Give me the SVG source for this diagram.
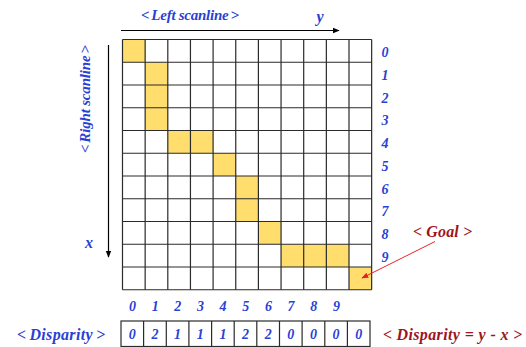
<svg xmlns="http://www.w3.org/2000/svg" width="526" height="347" viewBox="0 0 526 347">
<defs>
<style>
.t{font-family:"Liberation Serif","Times New Roman",serif;font-style:italic;font-weight:bold;}
.b{fill:#2a3fd4;}
.r{fill:#9e1420;}
.hl{fill:#ffde6e;}
.n{font-size:14px;text-anchor:middle;}
</style>
<marker id="ah" viewBox="0 0 10 10" refX="9" refY="5" markerWidth="7" markerHeight="7" orient="auto" markerUnits="userSpaceOnUse"><path d="M0,1 L10,5 L0,9 z" fill="#000"/></marker>
<marker id="ahr" viewBox="0 0 10 10" refX="9" refY="5" markerWidth="7" markerHeight="7" orient="auto" markerUnits="userSpaceOnUse"><path d="M0,1 L10,5 L0,9 z" fill="#e8202a"/></marker>
</defs>
<rect width="526" height="347" fill="#fff"/>

<g id="grid">
<rect x="122.5" y="39.5" width="249.2" height="250.2" fill="#fff"/>
<g class="hl">
<rect x="122.5" y="39.5" width="22.65" height="22.75"/>
<rect x="145.15" y="62.25" width="22.65" height="68.25"/>
<rect x="167.8" y="130.5" width="45.3" height="22.75"/>
<rect x="213.1" y="153.25" width="22.65" height="22.75"/>
<rect x="235.75" y="176" width="22.65" height="45.5"/>
<rect x="258.4" y="221.5" width="22.65" height="22.75"/>
<rect x="281.05" y="244.25" width="67.95" height="22.75"/>
<rect x="349" y="267" width="22.65" height="22.75"/>
</g>
<g stroke="#2b2b2b" stroke-width="1.2" fill="none">
<path d="M122.5,39.5V289.75 M145.15,39.5V289.75 M167.8,39.5V289.75 M190.45,39.5V289.75 M213.1,39.5V289.75 M235.75,39.5V289.75 M258.4,39.5V289.75 M281.05,39.5V289.75 M303.7,39.5V289.75 M326.35,39.5V289.75 M349,39.5V289.75 M371.65,39.5V289.75"/>
<path d="M122.5,39.5H371.65 M122.5,62.25H371.65 M122.5,85H371.65 M122.5,107.75H371.65 M122.5,130.5H371.65 M122.5,153.25H371.65 M122.5,176H371.65 M122.5,198.75H371.65 M122.5,221.5H371.65 M122.5,244.25H371.65 M122.5,267H371.65 M122.5,289.75H371.65"/>
</g>
</g>

<g id="connectors">
<line x1="121" y1="30.5" x2="339" y2="30.5" stroke="#000" stroke-width="1.2" marker-end="url(#ah)"/>
<line x1="108.5" y1="45" x2="108.5" y2="257" stroke="#000" stroke-width="1.2" marker-end="url(#ah)"/>
<line x1="435" y1="241.5" x2="362" y2="278" stroke="#e8202a" stroke-width="1" marker-end="url(#ahr)"/>
</g>

<g id="axis-labels">
<text class="t b" x="141" y="20" font-size="15" textLength="98" lengthAdjust="spacing">&lt;<tspan dx="2">Left scanline</tspan><tspan dx="2">&gt;</tspan></text>
<text class="t b" x="320" y="22" font-size="16" text-anchor="middle">y</text>
<text class="t b" x="89" y="248" font-size="16" text-anchor="middle">x</text>
<text class="t b" font-size="15" textLength="108" lengthAdjust="spacing" transform="translate(90,153) rotate(-90)">&lt;<tspan dx="2">Right scanline</tspan><tspan dx="2">&gt;</tspan></text>
</g>

<g id="row-labels" class="t b n">
<text x="385" y="57">0</text>
<text x="385" y="80">1</text>
<text x="385" y="102.5">2</text>
<text x="385" y="125">3</text>
<text x="385" y="148">4</text>
<text x="385" y="171">5</text>
<text x="385" y="193.5">6</text>
<text x="385" y="216">7</text>
<text x="385" y="239">8</text>
<text x="385" y="262">9</text>
</g>

<g id="col-labels" class="t b n">
<text x="132.5" y="310.5">0</text>
<text x="155.2" y="310.5">1</text>
<text x="177.8" y="310.5">2</text>
<text x="200.5" y="310.5">3</text>
<text x="223.1" y="310.5">4</text>
<text x="245.8" y="310.5">5</text>
<text x="268.4" y="310.5">6</text>
<text x="291.1" y="310.5">7</text>
<text x="313.7" y="310.5">8</text>
<text x="336.4" y="310.5">9</text>
</g>

<g id="goal">
<text class="t r" x="413" y="237" font-size="16" textLength="59" lengthAdjust="spacing">&lt;<tspan dx="4">Goal</tspan><tspan dx="4">&gt;</tspan></text>
</g>

<g id="disparity">
<text class="t b" x="17" y="340" font-size="16" textLength="88" lengthAdjust="spacing">&lt;<tspan dx="3">Disparity</tspan><tspan dx="3">&gt;</tspan></text>
<g stroke="#2b2b2b" stroke-width="1.2" fill="#fff">
<rect x="121" y="321" width="249" height="25.5"/>
<path d="M143.6,321V346.5 M166.3,321V346.5 M188.9,321V346.5 M211.6,321V346.5 M234.2,321V346.5 M256.8,321V346.5 M279.5,321V346.5 M302.1,321V346.5 M324.8,321V346.5 M347.4,321V346.5" fill="none"/>
</g>
<g class="t b n">
<text x="132.3" y="339">0</text>
<text x="155" y="339">2</text>
<text x="177.6" y="339">1</text>
<text x="200.3" y="339">1</text>
<text x="222.9" y="339">1</text>
<text x="245.5" y="339">2</text>
<text x="268.2" y="339">2</text>
<text x="290.8" y="339">0</text>
<text x="313.5" y="339">0</text>
<text x="336.1" y="339">0</text>
<text x="358.7" y="339">0</text>
</g>
<text class="t r" x="383" y="340" font-size="16" textLength="139" lengthAdjust="spacing">&lt;<tspan dx="4">Disparity = y - x</tspan><tspan dx="4">&gt;</tspan></text>
</g>
</svg>
